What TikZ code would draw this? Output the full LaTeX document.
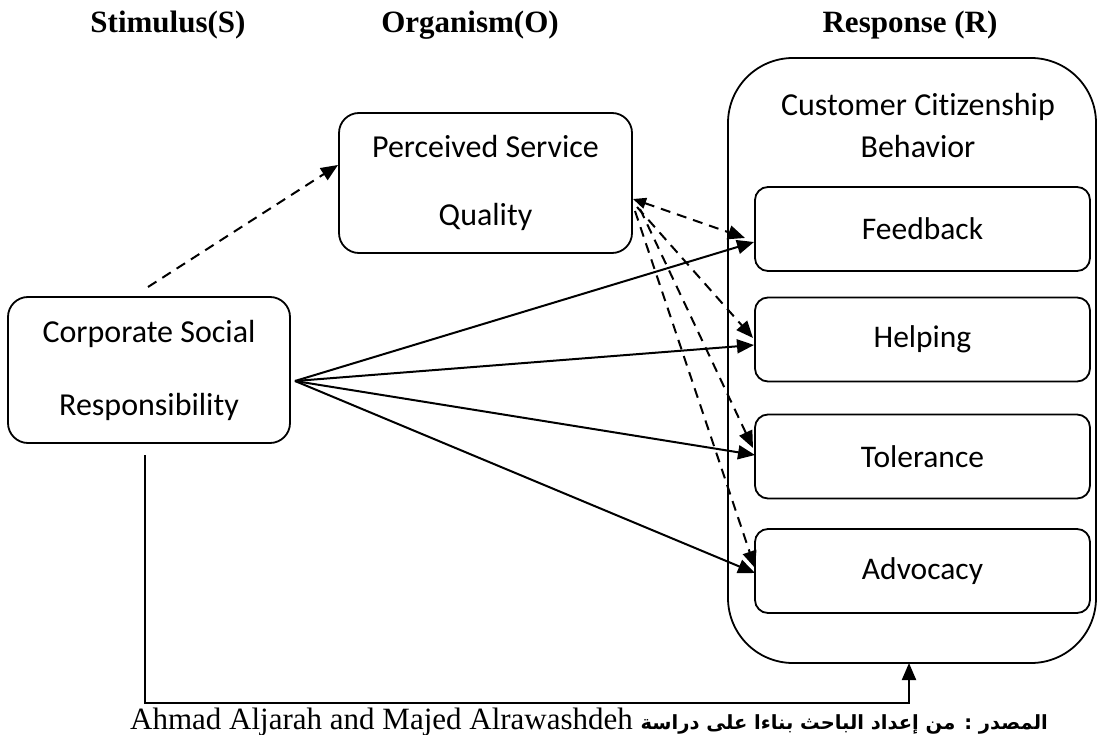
\documentclass[tikz,border=0pt]{standalone}
\usepackage{fontspec}
\setmainfont{Carlito}[Ligatures={NoCommon,NoRare}]
\newfontfamily\timesf{Liberation Serif}
\newfontfamily\arabicfont[Script=Arabic]{DejaVu Sans}
\TeXXeTstate=1
\usetikzlibrary{arrows.meta,calc}
\begin{document}
\begin{tikzpicture}[x=1pt,y=-1pt,
  box/.style={draw, line width=1.8pt, rounded corners=20pt, align=center, inner sep=0pt},
  inbox/.style={draw, line width=1.8pt, rounded corners=13pt, minimum width=335pt, minimum height=84pt, inner sep=0pt, font=\fontsize{31.5}{38}\selectfont},
  title/.style={font=\timesf\bfseries\fontsize{31}{36}\selectfont},
  conn/.style={line width=2pt, -{Triangle[length=17pt,width=14pt]}},
  dconn/.style={conn, dash pattern=on 10pt off 7pt}
]
\useasboundingbox (0,0) rectangle (1099,735);
% titles
\node[title] (tS) at (168,25) {Stimulus(S)};
\node[title] (tO) at (470,25) {Organism(O)};
\node[title] (tR) at (910,25) {Response (R)};
% boxes
\node[box, minimum width=282pt, minimum height=146pt, font=\fontsize{32}{73}\selectfont] (csr) at (149,370) {Corporate Social\\Responsibility};
\node[box, minimum width=293pt, minimum height=140pt, font=\fontsize{32}{68}\selectfont] (psq) at (485.5,183) {Perceived Service\\Quality};
\node[box, rounded corners=65pt, minimum width=368pt, minimum height=605pt] (R) at (912,360.5) {};
\node[align=center, font=\fontsize{32}{42}\selectfont] (ccb) at (918,126) {Customer Cit\kern0pt izenship\\Behavior};
\node[inbox] (fb) at (922.5,229) {Feedback};
\node[inbox] (hp) at (922.5,339.5) {Helping};
\node[inbox] (tl) at (922.5,456.5) {Tolerance};
\node[inbox] (ad) at (922.5,571) {Advocacy};
% connector ends
\coordinate (src) at (295,381);
\coordinate (fbA) at (754,242);
\coordinate (hpA) at (754,345);
\coordinate (tlA) at (755,455);
\coordinate (adA) at (755,573);
\coordinate (q1) at (633,199);
\coordinate (q2) at (637,207);
\coordinate (q3) at (640,209);
\coordinate (q4) at (635,211);
\coordinate (fbD) at (745,238);
\coordinate (hpD) at (753,338);
\coordinate (tlD) at (753,448);
\coordinate (adD) at (755,568);
\coordinate (csrTop) at (148,287);
\coordinate (psqIn) at (338,165);
\coordinate (csrBot) at (145,455);
\coordinate (corner) at (909,703);
\coordinate (rIn) at (909,663);
% solid arrows
\draw[conn] (src) -- (fbA);
\draw[conn] (src) -- (hpA);
\draw[conn] (src) -- (tlA);
\draw[conn] (src) -- (adA);
% dashed arrows
\draw[dconn] (csrTop) -- (psqIn);
\draw[dconn, {Triangle[length=13pt,width=11pt]}-{Triangle[length=17pt,width=14pt]}] (q1) -- (fbD);
\draw[dconn] (q2) -- (hpD);
\draw[dconn] (q3) -- (tlD);
\draw[dconn] (q4) -- (adD);
% bottom connector
\draw[conn] (csrBot) |- (corner) -- (rIn);
% caption
\node[anchor=base west, inner sep=0pt, font=\timesf\fontsize{31}{34}\selectfont] (cap) at (130,729) {Ahmad Aljarah and Majed Alrawashdeh {\arabicfont\bfseries\fontsize{19.5}{28}\selectfont\beginR المصدر : من إعداد الباحث بناءا على دراسة\endR}};
\end{tikzpicture}
\end{document}
